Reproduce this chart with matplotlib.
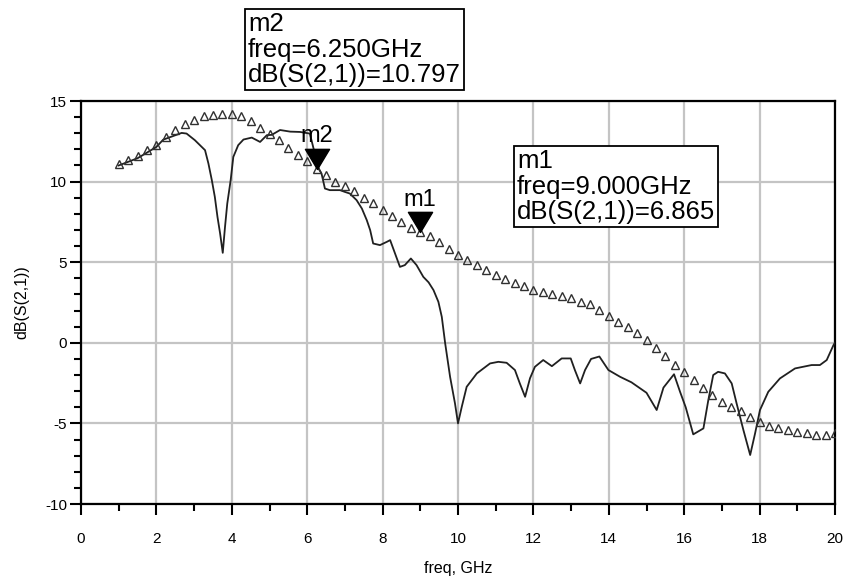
import numpy as np
import matplotlib
matplotlib.use("Agg")
import matplotlib.pyplot as plt
from matplotlib.path import Path

plt.rcParams["axes.unicode_minus"] = False

# --- data -------------------------------------------------------------
# Simulated dB(S(2,1)) on a 0.25 GHz sweep from 1 to 20 GHz (triangles)
sim_freq = np.arange(1.0, 20.0001, 0.25)
sim_db = [
    11.1, 11.35, 11.6, 11.95, 12.3, 12.75, 13.2, 13.55, 13.85, 14.05,
    14.15, 14.2, 14.2, 14.05, 13.75, 13.3, 12.95, 12.55, 12.1, 11.65,
    11.25, 10.797, 10.4, 10.0, 9.7, 9.4, 9.0, 8.65, 8.25, 7.85,
    7.5, 7.15, 6.865, 6.6, 6.25, 5.8, 5.45, 5.15, 4.85, 4.5,
    4.2, 3.95, 3.7, 3.5, 3.3, 3.15, 3.0, 2.88, 2.75, 2.55,
    2.4, 2.05, 1.65, 1.3, 0.95, 0.58, 0.17, -0.35, -0.82, -1.35,
    -1.83, -2.31, -2.83, -3.24, -3.66, -4.0, -4.21, -4.59, -4.9, -5.16,
    -5.31, -5.41, -5.52, -5.62, -5.7, -5.72, -5.62,
]

# Measured dB(S(2,1)) (solid line)
meas_freq = [
    1.0, 1.5, 2.0, 2.18, 2.67, 2.8, 3.02, 3.29, 3.38, 3.47,
    3.55, 3.62, 3.69, 3.76, 3.82, 3.88, 3.97, 4.04, 4.17, 4.31,
    4.53, 4.75, 4.93, 5.06, 5.28, 5.55, 5.81, 6.07, 6.3, 6.38,
    6.47, 6.6, 6.87, 7.0, 7.13, 7.31, 7.45, 7.58, 7.67, 7.75,
    7.93, 8.11, 8.2, 8.33, 8.46, 8.59, 8.75, 8.9, 9.08, 9.22,
    9.35, 9.48, 9.57, 9.66, 9.79, 9.92, 10.0, 10.1, 10.23, 10.5,
    10.85, 11.07, 11.29, 11.51, 11.64, 11.78, 11.91, 12.04, 12.26, 12.49,
    12.75, 12.99, 13.1, 13.24, 13.37, 13.53, 13.75, 13.99, 14.3, 14.6,
    15.0, 15.27, 15.45, 15.73, 15.89, 16.04, 16.24, 16.51, 16.64, 16.77,
    16.9, 17.08, 17.26, 17.39, 17.57, 17.75, 17.88, 18.01, 18.23, 18.54,
    18.94, 19.38, 19.6, 19.78, 19.96, 20.0,
]
meas_db = [
    11.0, 11.45, 12.15, 12.6, 13.02, 12.98, 12.57, 11.95, 11.12, 10.09,
    9.05, 7.81, 6.78, 5.58, 7.19, 8.64, 10.09, 11.53, 12.26, 12.61,
    12.73, 12.46, 12.88, 12.9, 13.2, 13.1, 13.08, 12.98, 10.81, 10.5,
    9.57, 9.47, 9.47, 9.36, 9.26, 8.85, 8.33, 7.61, 6.99, 6.16,
    6.06, 6.26, 6.37, 5.54, 4.71, 4.82, 5.23, 4.82, 4.09, 3.75,
    3.27, 2.54, 1.61, -0.04, -2.11, -3.76, -5.0, -3.97, -2.73, -1.9,
    -1.28, -1.18, -1.24, -1.69, -2.52, -3.35, -2.2, -1.49, -1.07, -1.45,
    -0.97, -0.97, -1.69, -2.52, -1.69, -1.0, -0.85, -1.69, -2.11, -2.45,
    -3.1, -4.17, -2.78, -1.95, -3.04, -4.0, -5.68, -5.31, -3.55, -2.0,
    -1.8, -1.9, -2.52, -3.76, -5.41, -6.96, -5.62, -4.17, -3.04, -2.21,
    -1.59, -1.38, -1.38, -1.07, -0.14, 0.0,
]

# Markers placed on the simulated trace
marker_names = ["m1", "m2"]
marker_freq = [9.0, 6.25]
marker_db = [6.865, 10.797]

x_ticks = [0, 2, 4, 6, 8, 10, 12, 14, 16, 18, 20]
y_ticks = [-10, -5, 0, 5, 10, 15]

# --- figure -----------------------------------------------------------
narrow = ["Liberation Sans Narrow", "Liberation Sans", "DejaVu Sans"]
plain = ["Liberation Sans", "DejaVu Sans"]

fig = plt.figure(figsize=(8.47, 5.82), dpi=100)
ax = fig.add_axes([81 / 847, 1 - 504 / 582, (835 - 81) / 847, (504 - 101) / 582])

ax.set_xlim(0, 20)
ax.set_ylim(-10, 15)
ax.set_xticks(x_ticks)
ax.set_yticks(y_ticks)
ax.set_xticks(np.arange(1, 20, 2), minor=True)
ax.set_yticks([v for v in range(-10, 16) if v % 5], minor=True)
ax.grid(True, which="major", color="#c4c4c4", linewidth=1.6)
ax.set_axisbelow(True)

for s in ax.spines.values():
    s.set_linewidth(1.6)
    s.set_color("black")

ax.tick_params(which="major", direction="out", length=8, width=1.5,
               labelsize=11, pad=2)
ax.tick_params(which="minor", direction="out", length=5, width=1.5)
ax.tick_params(axis="x", which="major", pad=12)
for lab in ax.get_xticklabels() + ax.get_yticklabels():
    lab.set_fontfamily(narrow)

ax.set_xlabel("freq, GHz", fontsize=11.5, family=narrow, labelpad=11)
ax.set_ylabel("dB(S(2,1))", fontsize=11.5, family=narrow, labelpad=11)

# measured trace
ax.plot(meas_freq, meas_db, color="#202020", linewidth=1.3, zorder=3)

# simulated trace as open triangles
ax.plot(sim_freq, sim_db, linestyle="none", marker="^", markersize=6.3,
        markerfacecolor="none", markeredgecolor="#303030",
        markeredgewidth=1.0, zorder=4)

# marker glyph: filled triangle with its tip on the data point
tip_down = Path([(-0.6, 1.0), (0.6, 1.0), (0.0, 0.0), (-0.6, 1.0)],
                [Path.MOVETO, Path.LINETO, Path.LINETO, Path.CLOSEPOLY])
for name, f, v in zip(marker_names, marker_freq, marker_db):
    ax.plot([f], [v], linestyle="none", marker=tip_down, markersize=29,
            color="black", zorder=5)
    ax.annotate(name, (f, v), xytext=(0, 19), textcoords="offset points",
                ha="center", va="baseline", fontsize=17, family=plain,
                zorder=6)

# readout boxes
box = dict(boxstyle="square,pad=0.12", fc="white", ec="black", lw=1.3)
readouts = {
    "m2": (248 / 847, 1 - 12 / 582),
    "m1": (517 / 847, 1 - 149 / 582),
}
for name, f, v in zip(marker_names, marker_freq, marker_db):
    x, y = readouts[name]
    fig.text(x, y, f"{name}\nfreq={f:.3f}GHz\ndB(S(2,1))={v:.3f}",
             ha="left", va="top", fontsize=18.5, family=plain,
             linespacing=1.08, bbox=box, zorder=10)

fig.savefig("out.png", dpi=100)
